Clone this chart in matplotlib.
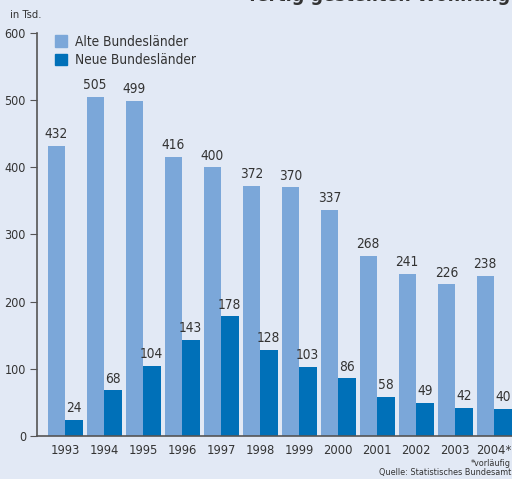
import numpy as np
import matplotlib.pyplot as plt
from matplotlib.patches import Patch

plt.rcParams['font.family'] = ['DejaVu Sans']
plt.rcParams['font.stretch'] = 'condensed'

years = ['1993', '1994', '1995', '1996', '1997', '1998', '1999', '2000',
         '2001', '2002', '2003', '2004*']
alte = [432, 505, 499, 416, 400, 372, 370, 337, 268, 241, 226, 238]
neue = [24, 68, 104, 143, 178, 128, 103, 86, 58, 49, 42, 40]

bg = '#e2e9f5'
c_alt = '#7ba7d9'
c_neu = '#0070b8'
txt = '#333333'

fig = plt.figure(figsize=(5.12, 4.79), dpi=100, facecolor=bg)
ax = fig.add_axes([37/512, 43/479, 475/512, 403/479], facecolor=bg)

x = np.arange(len(years))
w = 17.5 / 39
ax.bar(x - w/2, alte, w, color=c_alt)
ax.bar(x + w/2, neue, w, color=c_neu)

for i in range(len(years)):
    ax.text(x[i] - w/2, alte[i] + 7, str(alte[i]), ha='center', va='bottom',
            fontsize=9.8, color=txt)
    ax.text(x[i] + w/2, neue[i] + 7, str(neue[i]), ha='center', va='bottom',
            fontsize=9.8, color=txt)

ax.set_xlim(-28/39, (512 - 65)/39)
ax.set_ylim(0, 600)
ax.set_yticks(range(0, 601, 100))
ax.set_xticks(x)
ax.set_xticklabels(years)
ax.tick_params(axis='y', direction='out', length=5, colors='#555555',
               labelcolor=txt, labelsize=9, pad=3)
ax.tick_params(axis='x', length=0, labelcolor=txt, labelsize=9.3, pad=6)
for s in ['top', 'right']:
    ax.spines[s].set_visible(False)
for s in ['left', 'bottom']:
    ax.spines[s].set_color('#555555')
    ax.spines[s].set_linewidth(1.2)

handles = [Patch(color=c_alt, label='Alte Bundesländer'),
           Patch(color=c_neu, label='Neue Bundesländer')]
fig.legend(handles=handles, loc='upper left', bbox_to_anchor=(45/512, 1 - 25/479),
           frameon=False, fontsize=9.8, handlelength=0.95, handleheight=0.95,
           handletextpad=0.55, labelspacing=0.35, labelcolor=txt,
           borderpad=0.2)

fig.text(10/512, 1 - 15/479, 'in Tsd.', fontsize=8, color=txt, va='center')
fig.text(249/512, 1 - 1/479, 'fertig gestellten Wohnungen', fontsize=14,
         fontweight='bold', color=txt, ha='left', va='baseline')
fig.text(1 - 1/512, 1 - 463/479, '*vorläufig', fontsize=6.5, color=txt,
         ha='right', va='center')
fig.text(1 - 1/512, 1 - 473/479, 'Quelle: Statistisches Bundesamt', fontsize=6.5,
         color=txt, ha='right', va='center')

fig.savefig('out.png', dpi=100, facecolor=bg)
